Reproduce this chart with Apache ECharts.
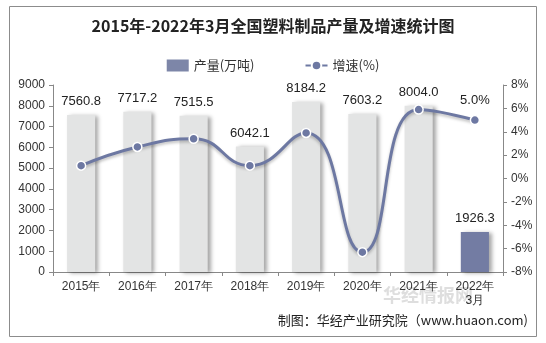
<!DOCTYPE html>
<html><head><meta charset="utf-8">
<script src="https://cdn.jsdelivr.net/npm/echarts@6/dist/echarts.min.js"></script>
<style>html,body{margin:0;padding:0;background:#fff}#c{width:546px;height:343px}</style>
</head><body><div id="c"></div>
<script>
const categories = ['2015年','2016年','2017年','2018年','2019年','2020年','2021年','2022年\n3月'];
const output = [7560.8, 7717.2, 7515.5, 6042.1, 8184.2, 7603.2, 8004.0, 1926.3];
const growth = [1.1, 2.7, 3.4, 1.1, 3.9, -6.3, 5.9, 5.0];
const leftTicks = [0, 9000, 1000];
const rightTicks = [-8, 8, 2];

const chart = echarts.init(document.getElementById('c'));
const F = 'Liberation Sans, Arial, sans-serif';
chart.setOption({
  animation: false,
  graphic: [
    {type:'rect', shape:{x:9.5,y:6.5,width:527,height:330}, style:{fill:'none', stroke:'#8c8c8c', lineWidth:1}},
    {type:'text', left:383, top:286, style:{text:'华经情报网', fill:'rgba(190,190,190,0.5)', font:'bold 18px "Noto Sans CJK SC"'}},
    {type:'text', right:18, top:314, style:{text:'制图：华经产业研究院（www.huaon.com)', fill:'#222', font:'13px "Noto Sans CJK SC"'}}
  ],
  title: {text:'2015年-2022年3月全国塑料制品产量及增速统计图', left:'center', top:13,
    textStyle:{fontSize:16, fontWeight:'bold', color:'#222', fontFamily:'"Noto Sans CJK SC"'}},
  legend: {top:54, left:'center', itemGap:50, itemWidth:22, itemHeight:12,
    textStyle:{fontSize:13, color:'#333', fontFamily:'"Noto Sans CJK SC"'},
    data:[{name:'产量(万吨)', icon:'rect', itemStyle:{color:'#7d86a8'}}, {name:'增速(%)'}]},
  grid: {left:53, right:43, top:85, bottom:71},
  xAxis: {type:'category', data:categories,
    axisLine:{lineStyle:{color:'#888'}}, axisTick:{show:true, length:4, lineStyle:{color:'#888'}},
    axisLabel:{color:'#333', fontSize:12, fontFamily:F, interval:0, margin:8, lineHeight:14}},
  yAxis: [
    {type:'value', min:leftTicks[0], max:leftTicks[1], interval:leftTicks[2],
      axisLine:{show:true, lineStyle:{color:'#888'}}, axisTick:{show:true, length:4, lineStyle:{color:'#888'}},
      splitLine:{show:false}, axisLabel:{color:'#333', fontSize:12, fontFamily:F, margin:8, formatter:v=>String(v)}},
    {type:'value', min:rightTicks[0], max:rightTicks[1], interval:rightTicks[2],
      axisLine:{show:true, lineStyle:{color:'#888'}}, axisTick:{show:true, length:4, lineStyle:{color:'#888'}},
      splitLine:{show:false}, axisLabel:{color:'#333', fontSize:12, fontFamily:F, margin:8, formatter:'{value}%'}}
  ],
  series: [
    {name:'产量(万吨)', type:'bar', barWidth:'50%',
      data: output.map((v,i)=>({value:v, itemStyle:{color: i===output.length-1 ? '#737ca3' : '#e3e4e4'}})),
      itemStyle:{shadowColor:'rgba(0,0,0,0.35)', shadowBlur:4, shadowOffsetX:3, shadowOffsetY:1},
      label:{show:true, position:'top', distance:7, color:'#222', fontSize:13, fontFamily:F, formatter:p=>p.value.toFixed(1)}},
    {name:'增速(%)', type:'line', yAxisIndex:1, smooth:0.5, data:growth,
      symbol:'circle', symbolSize:9,
      lineStyle:{color:'#6d78a2', width:3, shadowColor:'rgba(0,0,0,0.25)', shadowBlur:3, shadowOffsetY:2},
      itemStyle:{color:'#6d78a2', borderColor:'#fff', borderWidth:1.5},
      label:{show:true, position:'top', distance:8, color:'#222', fontSize:13, fontFamily:F,
        formatter:p=> p.dataIndex===growth.length-1 ? p.value.toFixed(1)+'%' : ''}}
  ]
});
</script></body></html>
